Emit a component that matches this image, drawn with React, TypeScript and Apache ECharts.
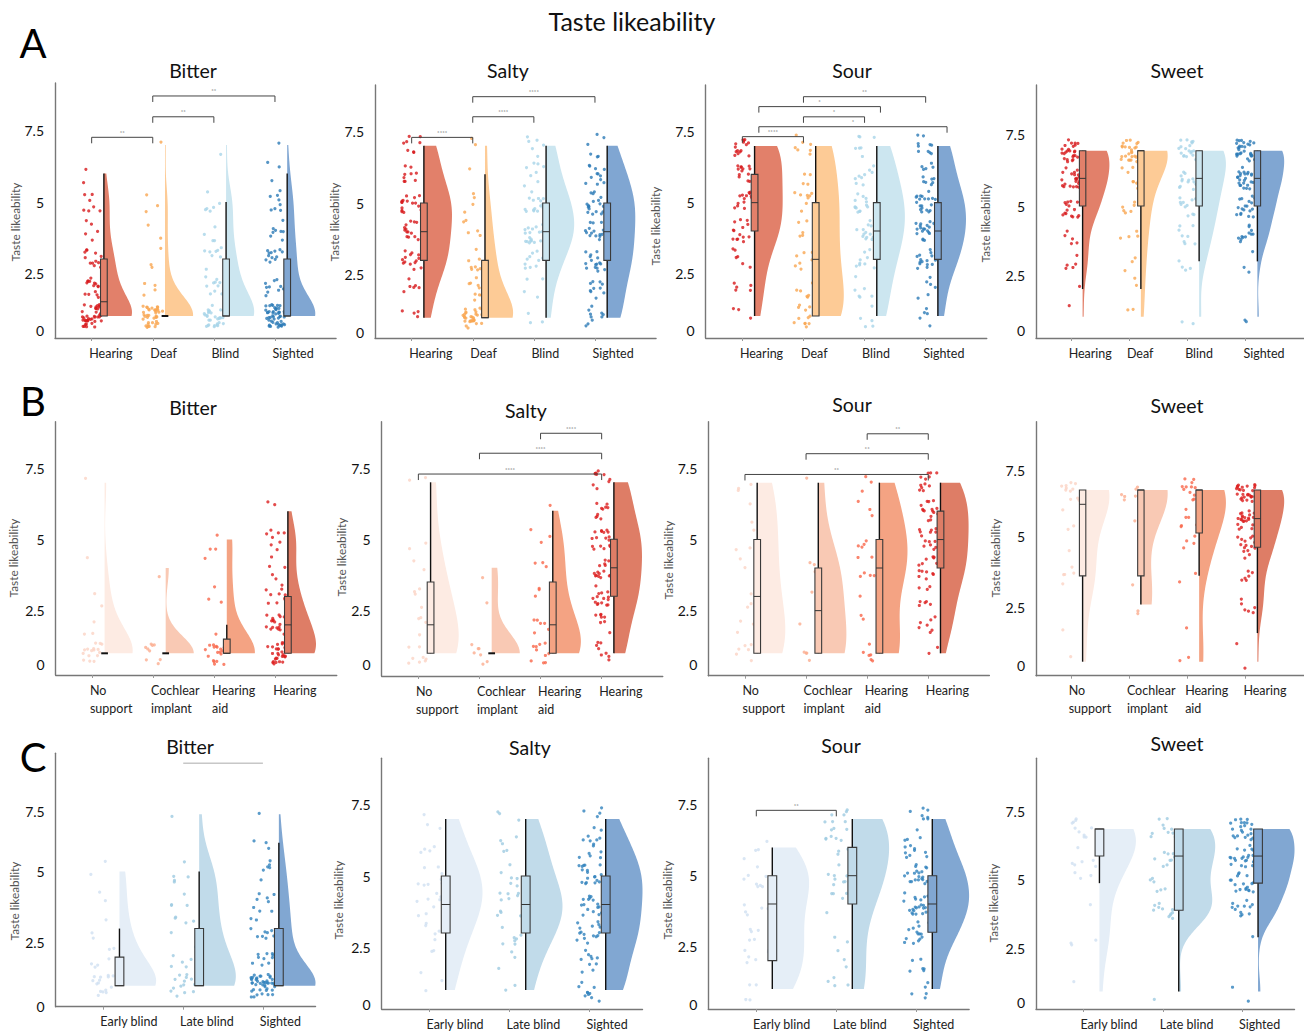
import React, { useEffect, useRef } from "react";
import * as echarts from "echarts";

const FONT = "Lato, 'Open Sans', sans-serif";

// ---------- texts ----------
const mainTitle = "Taste likeability";
const panelLetters = ["A", "B", "C"];
const tastes = ["Bitter", "Salty", "Sour", "Sweet"];
const groupsA = ["Hearing", "Deaf", "Blind", "Sighted"];
const groupsB = ["No\nsupport", "Cochlear\nimplant", "Hearing\naid", "Hearing"];
const groupsC = ["Early blind", "Late blind", "Sighted"];
const yName = "Taste likeability";
const yTickText = ["0", "2.5", "5", "7.5"];

// ---------- data: counts of ratings 1..7 per group ----------
const countsA_Bitter = [[41, 15, 12, 5, 7, 2, 0], [38, 4, 3, 2, 3, 0, 1], [30, 10, 8, 4, 6, 0, 1], [50, 10, 12, 8, 8, 3, 1]];
const countsA_Salty = [[4, 6, 14, 14, 17, 9, 8], [30, 9, 8, 5, 4, 1, 2], [3, 4, 10, 18, 15, 8, 6], [10, 10, 16, 16, 18, 12, 6]];
const countsA_Sour = [[3, 5, 6, 14, 14, 13, 15], [12, 6, 7, 5, 8, 4, 7], [5, 6, 9, 13, 13, 9, 7], [5, 6, 15, 20, 20, 12, 10]];
const countsA_Sweet = [[1, 1, 5, 5, 15, 22, 25], [2, 2, 3, 4, 6, 7, 26], [2, 0, 4, 8, 11, 14, 19], [2, 0, 3, 12, 18, 25, 30]];
const countsB_Bitter = [[16, 3, 2, 1, 0, 0, 1], [9, 0, 0, 1, 0, 0, 0], [18, 1, 3, 1, 3, 0, 0], [28, 18, 10, 5, 8, 2, 0]];
const countsB_Salty = [[8, 4, 4, 2, 2, 0, 2], [7, 0, 1, 1, 0, 0, 0], [10, 6, 3, 3, 3, 1, 0], [8, 8, 15, 15, 17, 10, 10]];
const countsB_Sour = [[6, 3, 3, 2, 3, 2, 3], [4, 1, 1, 3, 0, 0, 1], [6, 2, 1, 6, 4, 3, 3], [2, 7, 8, 14, 14, 15, 12]];
const countsB_Sweet = [[1, 1, 0, 5, 1, 3, 11], [0, 0, 2, 1, 0, 1, 6], [2, 1, 0, 2, 4, 6, 12], [1, 1, 6, 6, 15, 22, 28]];
const countsC_Bitter = [[15, 6, 3, 2, 2, 0, 0], [14, 6, 5, 4, 5, 0, 1], [45, 10, 10, 8, 6, 3, 1]];
const countsC_Salty = [[2, 3, 5, 8, 8, 4, 3], [2, 3, 7, 10, 6, 5, 3], [10, 10, 16, 16, 18, 12, 6]];
const countsC_Sour = [[4, 6, 5, 5, 8, 4, 0], [4, 3, 2, 5, 8, 8, 10], [5, 6, 15, 22, 20, 12, 8]];
const countsC_Sweet = [[1, 0, 3, 1, 3, 6, 10], [1, 0, 0, 11, 6, 9, 10], [2, 0, 1, 12, 18, 22, 22]];

// ---------- box stats: [whiskerLow, q1, median, q3, whiskerHigh] ----------
const boxA_Bitter = [[1, 1, 1.5, 3, 6], [1, 1, 1, 1, 1], [1, 1, 1, 3, 5], [1, 1, 1, 3, 6]];
const boxA_Salty = [[1, 3, 4, 5, 7], [1, 1, 1, 3, 6], [1, 3, 4, 5, 7], [1, 3, 4, 5, 7]];
const boxA_Sour = [[1, 4, 5, 6, 7], [1, 1, 3, 5, 7], [1, 3, 4, 5, 7], [1, 3, 4, 5, 7]];
const boxA_Sweet = [[2, 5, 6, 7, 7], [2, 5, 7, 7, 7], [3, 5, 6, 7, 7], [3, 5, 6, 7, 7]];
const boxB_Bitter = [[1, 1, 1, 1, 1], [1, 1, 1, 1, 1], [1, 1, 1, 1.5, 2], [1, 1, 2, 3, 6]];
const boxB_Salty = [[1, 1, 2, 3.5, 7], [1, 1, 1, 1, 1], [1, 1, 2, 3.5, 6], [1, 3, 4, 5, 7]];
const boxB_Sour = [[1, 1, 3, 5, 7], [1, 1, 2.5, 4, 7], [1, 1, 4, 5, 7], [1, 4, 5, 6, 7]];
const boxB_Sweet = [[1, 4, 6.5, 7, 7], [3, 4, 7, 7, 7], [4, 5.5, 7, 7, 7], [2, 5, 6, 7, 7]];
const boxC_Bitter = [[1, 1, 1, 2, 3], [1, 1, 1, 3, 5], [1, 1, 1, 3, 6]];
const boxC_Salty = [[1, 3, 4, 5, 7], [1, 3, 4, 5, 7], [1, 3, 4, 5, 7]];
const boxC_Sour = [[1, 2, 4, 5, 6], [1, 4, 5, 6, 7], [1, 3, 4, 5, 7]];
const boxC_Sweet = [[5, 6, 7, 7, 7], [1, 4, 6, 7, 7], [3, 5, 6, 7, 7]];

// ---------- significance brackets: [fromGroup, toGroup, height, stars] ----------
const sigA_Bitter = [[0, 1, 7.27, "**"], [1, 2, 7.99, "**"], [1, 3, 8.72, "**"]];
const sigA_Salty = [[0, 1, 7.29, "****"], [1, 2, 8.01, "****"], [1, 3, 8.71, "****"]];
const sigA_Sour = [[0, 1, 7.33, "****"], [0.27, 3.35, 7.68, "*"], [1, 2, 8.03, "*"], [0.27, 2.26, 8.39, "*"], [1, 3, 8.74, "**"]];
const sigB_Salty = [[2, 3, 8.72, "****"], [1, 3, 8.02, "****"], [0, 3, 7.29, "****"]];
const sigB_Sour = [[2, 3, 8.72, "**"], [1, 3, 8.02, "**"], [0, 3, 7.29, "**"]];
const sigC_Bitter = [[1, 2, 8.79, ""]];
const sigC_Sour = [[0, 1, 7.31, "**"]];
const sigNone: any[] = [];

// ---------- colours ----------
const pointColorsA = ["#d7191c", "#f9a651", "#a8d5e8", "#2c7bb6"];
const violinColorsA = ["#e2806a", "#fdcb96", "#cce6f0", "#80a6d2"];
const pointColorsB = ["#fbd3c4", "#fbac8f", "#f9664a", "#dc1e1e"];
const violinColorsB = ["#fdebe3", "#f9c9b4", "#f4a383", "#de7d66"];
const pointColorsC = ["#cfe0f1", "#9ecae1", "#3182bd"];
const violinColorsC = ["#e5eef7", "#c1dbea", "#81a7d2"];

// ---------- layout (pixels) ----------
type Panel = {
  cats: string[]; counts: number[][]; box: number[][]; sig: any[];
  pt: string[]; vio: string[]; taste: number;
  ax: number; sp: number; y7: number; y1: number; top: number; bot: number;
  lab: number[]; title: number[]; yname: number[];
};

const panels: Panel[] = [
  { cats: groupsA, counts: countsA_Bitter, box: boxA_Bitter, sig: sigA_Bitter, pt: pointColorsA, vio: violinColorsA, taste: 0, ax: 55, sp: 61.1, y7: 145, y1: 316, top: 83, bot: 338, lab: [0.5, 2.5, 5, 7.5], title: [193, 70], yname: [15, 222] },
  { cats: groupsA, counts: countsA_Salty, box: boxA_Salty, sig: sigA_Salty, pt: pointColorsA, vio: violinColorsA, taste: 1, ax: 375, sp: 61.1, y7: 145.7, y1: 317.7, top: 85, bot: 338, lab: [0.5, 2.5, 5, 7.5], title: [508, 70], yname: [334, 222] },
  { cats: groupsA, counts: countsA_Sour, box: boxA_Sour, sig: sigA_Sour, pt: pointColorsA, vio: violinColorsA, taste: 2, ax: 705.7, sp: 61.1, y7: 146, y1: 316, top: 85, bot: 338, lab: [0.5, 2.5, 5, 7.5], title: [852, 70], yname: [655, 226] },
  { cats: groupsA, counts: countsA_Sweet, box: boxA_Sweet, sig: sigNone, pt: pointColorsA, vio: violinColorsA, taste: 3, ax: 1036, sp: 61.1, y7: 150.7, y1: 316.7, top: 85, bot: 338, lab: [0.5, 2.5, 5, 7.6], title: [1177, 70], yname: [985, 223] },
  { cats: groupsB, counts: countsB_Bitter, box: boxB_Bitter, sig: sigNone, pt: pointColorsB, vio: violinColorsB, taste: 0, ax: 55.7, sp: 61.1, y7: 482.7, y1: 653.3, top: 421.7, bot: 675, lab: [0.6, 2.5, 5, 7.5], title: [193, 407], yname: [13, 558] },
  { cats: groupsB, counts: countsB_Salty, box: boxB_Salty, sig: sigB_Salty, pt: pointColorsB, vio: violinColorsB, taste: 1, ax: 381.7, sp: 61.1, y7: 482.3, y1: 653.3, top: 421.7, bot: 676, lab: [0.6, 2.5, 5, 7.5], title: [526, 410], yname: [341, 557] },
  { cats: groupsB, counts: countsB_Sour, box: boxB_Sour, sig: sigB_Sour, pt: pointColorsB, vio: violinColorsB, taste: 2, ax: 708.3, sp: 61.1, y7: 482.7, y1: 653.3, top: 421.7, bot: 675.7, lab: [0.6, 2.5, 5, 7.5], title: [852, 404], yname: [668, 560] },
  { cats: groupsB, counts: countsB_Sweet, box: boxB_Sweet, sig: sigNone, pt: pointColorsB, vio: violinColorsB, taste: 3, ax: 1036, sp: 61.1, y7: 490, y1: 661.7, top: 421.7, bot: 675.7, lab: [0.88, 2.9, 5.37, 7.67], title: [1177, 405], yname: [995, 558] },
  { cats: groupsC, counts: countsC_Bitter, box: boxC_Bitter, sig: sigC_Bitter, pt: pointColorsC, vio: violinColorsC, taste: 0, ax: 55.7, sp: 79.7, y7: 814.3, y1: 985.7, top: 753.3, bot: 1006.7, lab: [0.28, 2.5, 5, 7.1], title: [190, 746], yname: [14, 901] },
  { cats: groupsC, counts: countsC_Salty, box: boxC_Salty, sig: sigNone, pt: pointColorsC, vio: violinColorsC, taste: 1, ax: 381.7, sp: 80, y7: 820, y1: 993.3, top: 758.3, bot: 1012.7, lab: [0.5, 2.5, 5, 7.5], title: [530, 747], yname: [338, 900] },
  { cats: groupsC, counts: countsC_Sour, box: boxC_Sour, sig: sigC_Sour, pt: pointColorsC, vio: violinColorsC, taste: 2, ax: 708.3, sp: 80, y7: 820, y1: 992.3, top: 758.3, bot: 1012.7, lab: [0.45, 2.5, 5, 7.5], title: [841, 745], yname: [667, 900] },
  { cats: groupsC, counts: countsC_Sweet, box: boxC_Sweet, sig: sigNone, pt: pointColorsC, vio: violinColorsC, taste: 3, ax: 1036, sp: 79.3, y7: 830, y1: 995, top: 758.3, bot: 1012.7, lab: [0.6, 2.6, 5.15, 7.65], title: [1177, 743], yname: [993, 903] },
];

const letterPos = [[33, 43], [33, 401], [33, 757]];

// geometry in axis units
const BOX_OFF = 0.2;
const BOX_HW = 0.055;
const VIO_W = 0.46;
const JIT_X = 0.32;
const JIT_Y = 0.8;

// deterministic jitter (display offset only, not data)
const hash = (a: number) => {
  const s = Math.sin(a * 12.9898 + 78.233) * 43758.5453;
  return s - Math.floor(s);
};

function pointsFor(counts: number[], g: number, pi: number) {
  const pts: number[][] = [];
  let i = 0;
  counts.forEach((c, k) => {
    for (let j = 0; j < c; j++) {
      const seed = pi * 1000 + g * 200 + i;
      const jx = (hash(seed * 1.37 + 0.5) - 0.5) * JIT_X;
      const jy = (hash(seed * 2.71 + 3.3) - 0.5) * JIT_Y;
      pts.push([g + jx, k + 1 + jy]);
      i++;
    }
  });
  return pts;
}

// half-violin outline from a kernel density of the ratings
function violinFor(counts: number[], g: number) {
  let n = 0, s = 0, s2 = 0, lo = 7, hi = 1;
  counts.forEach((c, k) => {
    n += c; s += c * (k + 1); s2 += c * (k + 1) * (k + 1);
    if (c > 0) { lo = Math.min(lo, k + 1); hi = Math.max(hi, k + 1); }
  });
  const mean = s / n;
  const sd = Math.sqrt(Math.max(s2 / n - mean * mean, 0.25));
  const h = Math.max(0.55, 1.06 * sd * Math.pow(n, -0.2));
  const ys: number[] = [];
  for (let y = lo; y <= hi + 1e-9; y += 0.05) ys.push(y);
  const dens = ys.map((y) => counts.reduce((a, c, k) => a + c * Math.exp(-0.5 * ((y - (k + 1)) / h) ** 2), 0));
  const mx = Math.max(...dens);
  const x0 = g + BOX_OFF;
  const poly: number[][] = [[x0, lo]];
  ys.forEach((y, i) => poly.push([x0 + (dens[i] / mx) * VIO_W, y]));
  poly.push([x0, hi]);
  return poly;
}

function nearestIdx(arr: number[], v: number) {
  let bi = 0;
  arr.forEach((a, i) => { if (Math.abs(a - v) < Math.abs(arr[bi] - v)) bi = i; });
  return bi;
}

function buildOption() {
  const grid: any[] = [], xAxis: any[] = [], yAxis: any[] = [], series: any[] = [], graphic: any[] = [];

  panels.forEach((p, pi) => {
    const n = p.cats.length;
    const xMin = -0.6, xMax = n === 4 ? 4.0 : 2.66;
    const unit = (p.y1 - p.y7) / 6;
    const yMin = 1 - (p.bot - p.y1) / unit;
    const yMax = 7 + (p.y7 - p.top) / unit;
    grid.push({ left: p.ax, top: p.top, width: p.sp * (xMax - xMin), height: p.bot - p.top });
    const idx = p.cats.map((_, i) => i);
    xAxis.push({
      type: "value", gridIndex: pi, min: xMin, max: xMax,
      splitLine: { show: false },
      axisLine: { show: true, onZero: false, lineStyle: { color: "#777", width: 1.4 } },
      axisTick: { show: true, customValues: idx, length: 3, lineStyle: { color: "#999" } },
      axisLabel: {
        customValues: idx.map((i) => i - 0.04),
        formatter: (v: number) => p.cats[Math.round(v)] ?? "",
        align: "left", fontSize: 12.5, color: "#222", fontFamily: FONT, lineHeight: 18, margin: 6,
      },
    });
    yAxis.push({
      type: "value", gridIndex: pi, min: yMin, max: yMax,
      splitLine: { show: false },
      axisLine: { show: true, onZero: false, lineStyle: { color: "#777", width: 1.4 } },
      axisTick: { show: false },
      axisLabel: {
        customValues: p.lab,
        formatter: (v: number) => yTickText[nearestIdx(p.lab, v)],
        fontSize: 14, color: "#111", fontFamily: FONT, margin: 11,
      },
    });

    const shapes = p.counts.map((c, g) => violinFor(c, g));

    // violins
    series.push({
      type: "custom", xAxisIndex: pi, yAxisIndex: pi, z: 1, silent: true,
      data: p.counts.map((_, g) => [g, 4]),
      renderItem: (params: any, api: any) => {
        const g = params.dataIndex;
        return {
          type: "polygon",
          shape: { points: shapes[g].map((q) => api.coord(q)) },
          style: { fill: p.vio[g], stroke: "none" },
        };
      },
    });

    // raw points
    p.counts.forEach((c, g) => {
      series.push({
        type: "scatter", xAxisIndex: pi, yAxisIndex: pi, z: 2, silent: true,
        symbol: "circle", symbolSize: 3.2,
        itemStyle: { color: p.pt[g] },
        data: pointsFor(c, g, pi),
      });
    });

    // boxes
    series.push({
      type: "custom", xAxisIndex: pi, yAxisIndex: pi, z: 3, silent: true,
      data: p.box.map((b, g) => [g, b[2]]),
      renderItem: (params: any, api: any) => {
        const g = params.dataIndex;
        const [lo, q1, med, q3, hi] = p.box[g];
        const cx = g + BOX_OFF;
        const pLo = api.coord([cx, lo]);
        const pHi = api.coord([cx, hi]);
        const pTL = api.coord([cx - BOX_HW, q3]);
        const pBR = api.coord([cx + BOX_HW, q1]);
        const mL = api.coord([cx - BOX_HW, med]);
        const mR = api.coord([cx + BOX_HW, med]);
        const children: any[] = [];
        if (hi > lo) children.push({ type: "line", shape: { x1: pLo[0], y1: pLo[1], x2: pHi[0], y2: pHi[1] }, style: { stroke: "#111", lineWidth: 1.4 } });
        if (q3 > q1) {
          children.push({ type: "rect", shape: { x: pTL[0], y: pTL[1], width: pBR[0] - pTL[0], height: pBR[1] - pTL[1] }, style: { fill: p.vio[g], stroke: "#3a3a3a", lineWidth: 1.1 } });
          children.push({ type: "line", shape: { x1: mL[0], y1: mL[1], x2: mR[0], y2: mR[1] }, style: { stroke: "#333", lineWidth: 1 } });
        } else {
          children.push({ type: "line", shape: { x1: mL[0], y1: mL[1], x2: mR[0], y2: mR[1] }, style: { stroke: "#111", lineWidth: 2 } });
        }
        return { type: "group", children };
      },
    });

    // significance brackets
    if (p.sig.length) {
      series.push({
        type: "custom", xAxisIndex: pi, yAxisIndex: pi, z: 4, silent: true,
        data: p.sig.map((s: any) => [s[0], s[2]]),
        renderItem: (params: any, api: any) => {
          const [a, b, hgt, stars] = p.sig[params.dataIndex];
          const pa = api.coord([a, hgt]);
          const pb = api.coord([b, hgt]);
          const plain = stars === "";
          const drop = plain ? 0 : 6;
          const children: any[] = [{
            type: "polyline",
            shape: { points: [[pa[0], pa[1] + drop], pa, pb, [pb[0], pb[1] + drop]] },
            style: { stroke: plain ? "#aaa" : "#444", lineWidth: 1, fill: "none" },
          }];
          if (!plain) children.push({
            type: "text", x: (pa[0] + pb[0]) / 2, y: pa[1] - 2,
            style: { text: stars, fontSize: 6, fill: "#666", fontFamily: FONT, align: "center", verticalAlign: "bottom", textAlign: "center", textVerticalAlign: "bottom" },
          });
          return { type: "group", children };
        },
      });
    }

    // titles & axis names
    graphic.push({
      type: "text", x: p.title[0], y: p.title[1],
      style: { text: tastes[p.taste], fontSize: 19.5, fill: "#111", fontFamily: FONT, textAlign: "center", textVerticalAlign: "middle", align: "center", verticalAlign: "middle" },
    });
    graphic.push({
      type: "text", x: p.yname[0], y: p.yname[1], rotation: Math.PI / 2,
      style: { text: yName, fontSize: 11.8, fill: "#555", fontFamily: FONT, textAlign: "center", textVerticalAlign: "middle", align: "center", verticalAlign: "middle" },
    });
  });

  graphic.push({
    type: "text", x: 632, y: 21,
    style: { text: mainTitle, fontSize: 25, fill: "#111", fontFamily: FONT, textAlign: "center", textVerticalAlign: "middle", align: "center", verticalAlign: "middle" },
  });
  panelLetters.forEach((l, i) => {
    graphic.push({
      type: "text", x: letterPos[i][0], y: letterPos[i][1],
      style: { text: l, fontSize: 40, fill: "#000", fontFamily: FONT, textAlign: "center", textVerticalAlign: "middle", align: "center", verticalAlign: "middle" },
    });
  });

  return { animation: false, backgroundColor: "#fff", grid, xAxis, yAxis, series, graphic };
}

export default function App() {
  const ref = useRef<HTMLDivElement>(null);
  useEffect(() => {
    const chart = echarts.init(ref.current!, null, { renderer: "svg" });
    chart.setOption(buildOption() as any);
    return () => chart.dispose();
  }, []);
  return (
    <div
      ref={ref}
      style={{ position: "fixed", left: 0, top: 0, width: 1304, height: 1033, background: "#fff" }}
    />
  );
}
